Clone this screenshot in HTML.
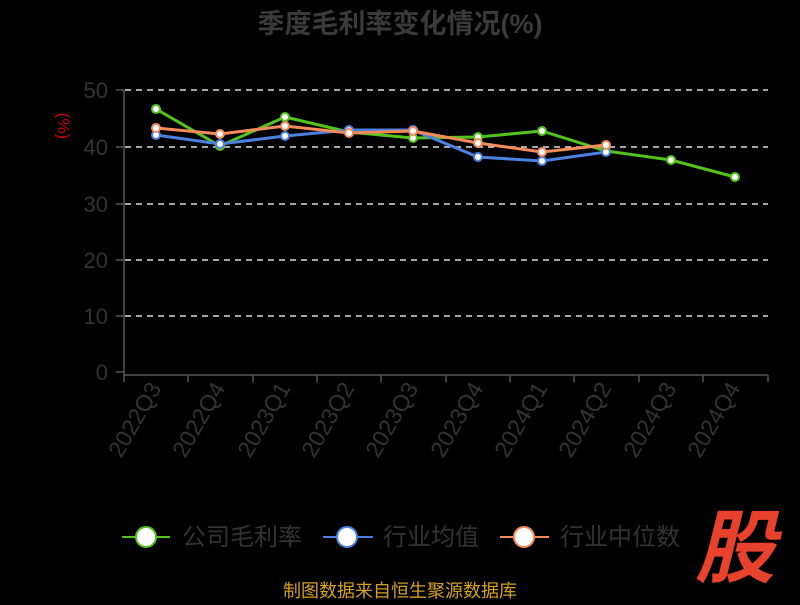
<!DOCTYPE html>
<html><head><meta charset="utf-8"><style>
body{margin:0;background:#000;width:800px;height:600px;overflow:hidden}
text{font-family:"Liberation Sans","Noto Sans CJK SC",sans-serif}
</style></head><body>
<svg width="800" height="600" xmlns="http://www.w3.org/2000/svg">
<text x="400" y="33" text-anchor="middle" font-size="27" font-weight="bold" fill="#3a3a3a">季度毛利率变化情况(%)</text>
<text x="58" y="126" text-anchor="middle" font-size="17" fill="#c00" transform="rotate(90 58 126)">(%)</text>
<g stroke="#ddd" stroke-width="1.5" stroke-dasharray="6,5">
<line x1="125" y1="90" x2="768" y2="90"/><line x1="125" y1="147" x2="768" y2="147"/><line x1="125" y1="204" x2="768" y2="204"/><line x1="125" y1="260" x2="768" y2="260"/><line x1="125" y1="316" x2="768" y2="316"/>
</g>
<g stroke="#555" stroke-width="1.5">
<line x1="124" y1="90" x2="124" y2="376"/><line x1="124" y1="375" x2="768" y2="375"/>
<line x1="116" y1="90" x2="124" y2="90"/><line x1="116" y1="147" x2="124" y2="147"/><line x1="116" y1="204" x2="124" y2="204"/><line x1="116" y1="260" x2="124" y2="260"/><line x1="116" y1="316" x2="124" y2="316"/><line x1="116" y1="372" x2="124" y2="372"/>
<line x1="124" y1="375" x2="124" y2="382"/><line x1="188" y1="375" x2="188" y2="382"/><line x1="253" y1="375" x2="253" y2="382"/><line x1="317" y1="375" x2="317" y2="382"/><line x1="381" y1="375" x2="381" y2="382"/><line x1="446" y1="375" x2="446" y2="382"/><line x1="510" y1="375" x2="510" y2="382"/><line x1="574" y1="375" x2="574" y2="382"/><line x1="639" y1="375" x2="639" y2="382"/><line x1="703" y1="375" x2="703" y2="382"/><line x1="768" y1="375" x2="768" y2="382"/>
</g>
<g font-size="22" fill="#333" text-anchor="end">
<text x="108" y="98">50</text><text x="108" y="155">40</text><text x="108" y="212">30</text><text x="108" y="268">20</text><text x="108" y="324">10</text><text x="108" y="380">0</text>
</g>
<g font-size="23" fill="#333" text-anchor="end">
<text transform="translate(162,388) rotate(-60)">2022Q3</text>
<text transform="translate(226,388) rotate(-60)">2022Q4</text>
<text transform="translate(291,388) rotate(-60)">2023Q1</text>
<text transform="translate(355,388) rotate(-60)">2023Q2</text>
<text transform="translate(419,388) rotate(-60)">2023Q3</text>
<text transform="translate(484,388) rotate(-60)">2023Q4</text>
<text transform="translate(548,388) rotate(-60)">2024Q1</text>
<text transform="translate(612,388) rotate(-60)">2024Q2</text>
<text transform="translate(677,388) rotate(-60)">2024Q3</text>
<text transform="translate(741,388) rotate(-60)">2024Q4</text>
</g>
<polyline fill="none" stroke="#52c41a" stroke-width="3" points="156,109 220,146 285,117 349,132 413,138 478,137 542,131 606,151 671,160 735,177"/>
<polyline fill="none" stroke="#4a80e0" stroke-width="3" points="156,135 220,144 285,136 349,130 413,130 478,157 542,161 606,152"/>
<polyline fill="none" stroke="#f58a5a" stroke-width="3" points="156,128 220,134 285,126 349,133 413,131 478,143 542,152 606,145"/>
<g fill="#fff" stroke="#52c41a" stroke-width="2">
<circle cx="156" cy="109" r="4"/><circle cx="220" cy="146" r="4"/><circle cx="285" cy="117" r="4"/><circle cx="349" cy="132" r="4"/><circle cx="413" cy="138" r="4"/><circle cx="478" cy="137" r="4"/><circle cx="542" cy="131" r="4"/><circle cx="606" cy="151" r="4"/><circle cx="671" cy="160" r="4"/><circle cx="735" cy="177" r="4"/></g>
<g fill="#fff" stroke="#4a80e0" stroke-width="2">
<circle cx="156" cy="135" r="4"/><circle cx="220" cy="144" r="4"/><circle cx="285" cy="136" r="4"/><circle cx="349" cy="130" r="4"/><circle cx="413" cy="130" r="4"/><circle cx="478" cy="157" r="4"/><circle cx="542" cy="161" r="4"/><circle cx="606" cy="152" r="4"/></g>
<g fill="#fff" stroke="#f58a5a" stroke-width="2">
<circle cx="156" cy="128" r="4"/><circle cx="220" cy="134" r="4"/><circle cx="285" cy="126" r="4"/><circle cx="349" cy="133" r="4"/><circle cx="413" cy="131" r="4"/><circle cx="478" cy="143" r="4"/><circle cx="542" cy="152" r="4"/><circle cx="606" cy="145" r="4"/></g>
<g stroke-width="2">
<line x1="122" y1="537" x2="170" y2="537" stroke="#52c41a"/><circle cx="146" cy="537" r="10" fill="#fff" stroke="#52c41a"/>
<line x1="323" y1="537" x2="373" y2="537" stroke="#4a80e0"/><circle cx="347" cy="537" r="10" fill="#fff" stroke="#4a80e0"/>
<line x1="500" y1="537" x2="549" y2="537" stroke="#f58a5a"/><circle cx="524" cy="537" r="10" fill="#fff" stroke="#f58a5a"/>
</g>
<g font-size="24" fill="#333">
<text x="182" y="545">公司毛利率</text><text x="383" y="545">行业均值</text><text x="560" y="545">行业中位数</text>
</g>
<text x="735" y="576" text-anchor="middle" font-size="80" font-weight="bold" font-style="italic" fill="#e8412c">股</text>
<text x="400" y="597" text-anchor="middle" font-size="18" fill="#d4a020">制图数据来自恒生聚源数据库</text>
</svg>
</body></html>
